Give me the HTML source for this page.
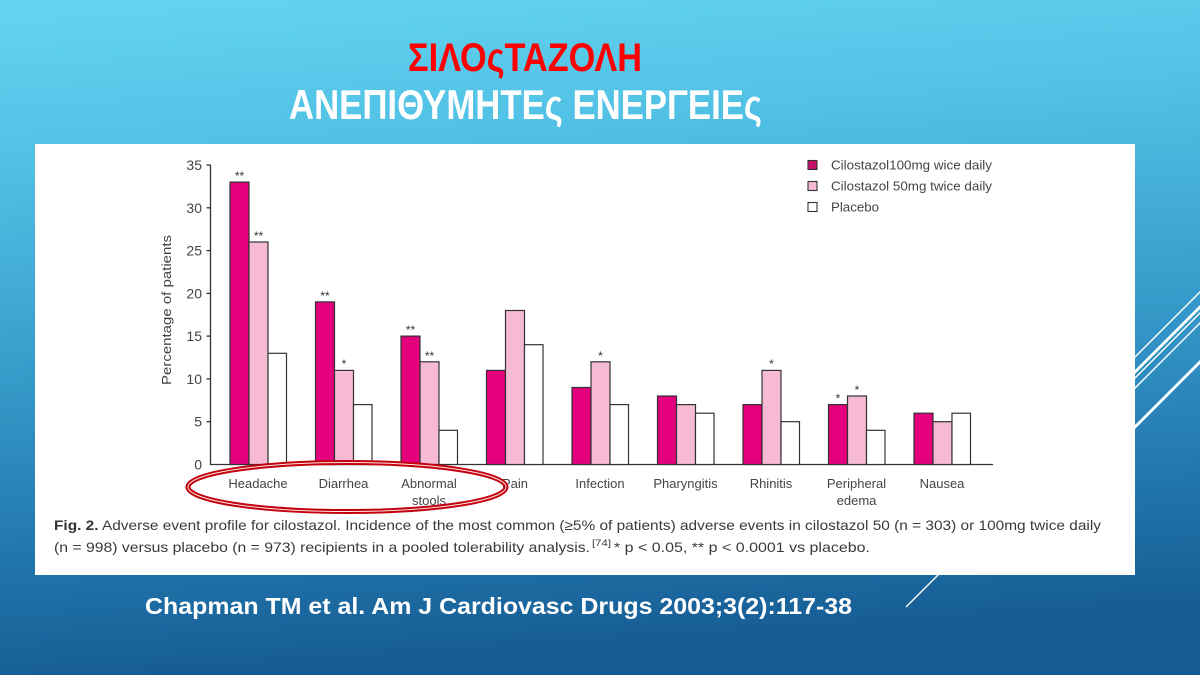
<!DOCTYPE html>
<html>
<head>
<meta charset="utf-8">
<style>
html,body{margin:0;padding:0;width:1200px;height:675px;overflow:hidden;}
svg{display:block;}
</style>
</head>
<body>
<svg width="1200" height="675" viewBox="0 0 1200 675" xmlns="http://www.w3.org/2000/svg">
  <defs>
    <linearGradient id="bg" x1="0" y1="0" x2="0.12" y2="1">
      <stop offset="0" stop-color="#63d5f1"/>
      <stop offset="0.25" stop-color="#50bfe4"/>
      <stop offset="0.55" stop-color="#369bca"/>
      <stop offset="0.85" stop-color="#1f71a8"/>
      <stop offset="1" stop-color="#175d95"/>
    </linearGradient>
  </defs>
  <rect x="0" y="0" width="1200" height="675" fill="url(#bg)"/>

  <!-- decorative lines right -->
  <g stroke="#ffffff" fill="none">
    <line x1="1120" y1="372" x2="1205" y2="287" stroke-width="1.5"/>
    <line x1="1120" y1="387" x2="1205" y2="302" stroke-width="2.8"/>
    <line x1="1120" y1="393" x2="1205" y2="308" stroke-width="1.5"/>
    <line x1="1120" y1="403" x2="1205" y2="318" stroke-width="1.5"/>
    <line x1="1120" y1="442" x2="1205" y2="357" stroke-width="2.8"/>
    <line x1="906" y1="607" x2="940" y2="573" stroke-width="1.3"/>
  </g>

  <!-- titles -->
  <text x="408" y="71" font-family="Liberation Sans, DejaVu Sans, sans-serif" font-weight="bold" font-size="40" fill="#ff0000" textLength="234" lengthAdjust="spacingAndGlyphs">ΣΙΛΟςΤΑΖΟΛΗ</text>
  <text x="289" y="119" font-family="Liberation Sans, DejaVu Sans, sans-serif" font-weight="bold" font-size="42" fill="#ffffff" textLength="473" lengthAdjust="spacingAndGlyphs">ΑΝΕΠΙΘΥΜΗΤΕς ΕΝΕΡΓΕΙΕς</text>

  <!-- white panel -->
  <rect x="35" y="144" width="1100" height="431" fill="#ffffff"/>

  <!-- y axis -->
  <g stroke="#333" stroke-width="1.3" fill="none">
    <line x1="210.5" y1="165" x2="210.5" y2="464.5"/>
    <line x1="210" y1="464.5" x2="993" y2="464.5"/>
    <line x1="206.5" y1="165" x2="210.5" y2="165"/>
    <line x1="206.5" y1="207.8" x2="210.5" y2="207.8"/>
    <line x1="206.5" y1="250.6" x2="210.5" y2="250.6"/>
    <line x1="206.5" y1="293.4" x2="210.5" y2="293.4"/>
    <line x1="206.5" y1="336.1" x2="210.5" y2="336.1"/>
    <line x1="206.5" y1="378.9" x2="210.5" y2="378.9"/>
    <line x1="206.5" y1="421.7" x2="210.5" y2="421.7"/>
  </g>
  <g font-family="Liberation Sans, sans-serif" font-size="14" fill="#444" text-anchor="end">
    <text x="202" y="170">35</text>
    <text x="202" y="212.8">30</text>
    <text x="202" y="255.6">25</text>
    <text x="202" y="298.4">20</text>
    <text x="202" y="341.1">15</text>
    <text x="202" y="383.9">10</text>
    <text x="202" y="426.7">5</text>
    <text x="202" y="469.5">0</text>
  </g>
  <text transform="translate(171,310) rotate(-90)" font-family="Liberation Sans, sans-serif" font-size="13" fill="#444" text-anchor="middle" textLength="150" lengthAdjust="spacingAndGlyphs">Percentage of patients</text>

  <!-- bars -->
  <g stroke="#333" stroke-width="1.2">
    <!-- Headache -->
    <rect x="230" y="182.1" width="19" height="282.4" fill="#e4007c"/>
    <rect x="249" y="242" width="19" height="222.5" fill="#f6bad5"/>
    <rect x="268" y="353.3" width="18.5" height="111.2" fill="#ffffff"/>
    <!-- Diarrhea -->
    <rect x="315.5" y="301.9" width="19" height="162.6" fill="#e4007c"/>
    <rect x="334.5" y="370.4" width="19" height="94.1" fill="#f6bad5"/>
    <rect x="353.5" y="404.6" width="18.5" height="59.9" fill="#ffffff"/>
    <!-- Abnormal stools -->
    <rect x="401" y="336.1" width="19" height="128.4" fill="#e4007c"/>
    <rect x="420" y="361.8" width="19" height="102.7" fill="#f6bad5"/>
    <rect x="439" y="430.3" width="18.5" height="34.2" fill="#ffffff"/>
    <!-- Pain -->
    <rect x="486.5" y="370.4" width="19" height="94.1" fill="#e4007c"/>
    <rect x="505.5" y="310.5" width="19" height="154" fill="#f6bad5"/>
    <rect x="524.5" y="344.7" width="18.5" height="119.8" fill="#ffffff"/>
    <!-- Infection -->
    <rect x="572" y="387.5" width="19" height="77" fill="#e4007c"/>
    <rect x="591" y="361.8" width="19" height="102.7" fill="#f6bad5"/>
    <rect x="610" y="404.6" width="18.5" height="59.9" fill="#ffffff"/>
    <!-- Pharyngitis -->
    <rect x="657.5" y="396" width="19" height="68.5" fill="#e4007c"/>
    <rect x="676.5" y="404.6" width="19" height="59.9" fill="#f6bad5"/>
    <rect x="695.5" y="413.2" width="18.5" height="51.3" fill="#ffffff"/>
    <!-- Rhinitis -->
    <rect x="743" y="404.6" width="19" height="59.9" fill="#e4007c"/>
    <rect x="762" y="370.4" width="19" height="94.1" fill="#f6bad5"/>
    <rect x="781" y="421.7" width="18.5" height="42.8" fill="#ffffff"/>
    <!-- Peripheral edema -->
    <rect x="828.5" y="404.6" width="19" height="59.9" fill="#e4007c"/>
    <rect x="847.5" y="396" width="19" height="68.5" fill="#f6bad5"/>
    <rect x="866.5" y="430.3" width="18.5" height="34.2" fill="#ffffff"/>
    <!-- Nausea -->
    <rect x="914" y="413.2" width="19" height="51.3" fill="#e4007c"/>
    <rect x="933" y="421.7" width="19" height="42.8" fill="#f6bad5"/>
    <rect x="952" y="413.2" width="18.5" height="51.3" fill="#ffffff"/>
  </g>

  <!-- significance stars -->
  <g font-family="Liberation Sans, sans-serif" font-size="12" fill="#333" text-anchor="middle">
    <text x="239.5" y="180">**</text>
    <text x="258.5" y="240">**</text>
    <text x="325" y="300">**</text>
    <text x="344" y="368">*</text>
    <text x="410.5" y="334">**</text>
    <text x="429.5" y="360">**</text>
    <text x="600.5" y="360">*</text>
    <text x="771.5" y="368">*</text>
    <text x="838" y="402.5">*</text>
    <text x="857" y="394">*</text>
  </g>

  <!-- category labels -->
  <g font-family="Liberation Sans, sans-serif" font-size="13" fill="#444" text-anchor="middle">
    <text x="258" y="488">Headache</text>
    <text x="343.5" y="488">Diarrhea</text>
    <text x="429" y="488">Abnormal</text>
    <text x="429" y="505">stools</text>
    <text x="515" y="488">Pain</text>
    <text x="600" y="488">Infection</text>
    <text x="685.5" y="488">Pharyngitis</text>
    <text x="771" y="488">Rhinitis</text>
    <text x="856.5" y="488">Peripheral</text>
    <text x="856.5" y="505">edema</text>
    <text x="942" y="488">Nausea</text>
  </g>

  <!-- red ellipse -->
  <ellipse cx="347" cy="487" rx="159" ry="24.5" fill="none" stroke="#c4000c" stroke-width="5"/>
  <ellipse cx="347" cy="487" rx="159" ry="24.5" fill="none" stroke="#ffffff" stroke-width="1" opacity="0.9"/>

  <!-- legend -->
  <g stroke="#333" stroke-width="1.1">
    <rect x="808" y="160.5" width="9" height="9" fill="#c8116a"/>
    <rect x="808" y="181.5" width="9" height="9" fill="#f6bad5"/>
    <rect x="808" y="202.5" width="9" height="9" fill="#ffffff"/>
  </g>
  <g font-family="Liberation Sans, sans-serif" font-size="12.5" fill="#444">
    <text x="831" y="169.5" textLength="161" lengthAdjust="spacingAndGlyphs">Cilostazol100mg wice daily</text>
    <text x="831" y="190.5" textLength="161" lengthAdjust="spacingAndGlyphs">Cilostazol 50mg twice daily</text>
    <text x="831" y="211.5" textLength="48" lengthAdjust="spacingAndGlyphs">Placebo</text>
  </g>

  <!-- caption -->
  <g font-family="Liberation Sans, sans-serif" font-size="14" fill="#3a3a3a">
    <text x="54" y="530" textLength="1047" lengthAdjust="spacingAndGlyphs"><tspan font-weight="bold" fill="#333">Fig. 2.</tspan> Adverse event profile for cilostazol. Incidence of the most common (≥5% of patients) adverse events in cilostazol 50 (n = 303) or 100mg twice daily</text>
    <text x="54" y="552" textLength="536" lengthAdjust="spacingAndGlyphs">(n = 998) versus placebo (n = 973) recipients in a pooled tolerability analysis.</text>
    <text x="592" y="546" font-size="9" textLength="19" lengthAdjust="spacingAndGlyphs">[74]</text>
    <text x="614" y="552" textLength="256" lengthAdjust="spacingAndGlyphs">* p &lt; 0.05, ** p &lt; 0.0001 vs placebo.</text>
  </g>

  <!-- reference -->
  <text x="145" y="614" font-family="Liberation Sans, sans-serif" font-weight="bold" font-size="23" fill="#ffffff" textLength="707" lengthAdjust="spacingAndGlyphs">Chapman TM et al. Am J Cardiovasc Drugs 2003;3(2):117-38</text>
</svg>
</body>
</html>
